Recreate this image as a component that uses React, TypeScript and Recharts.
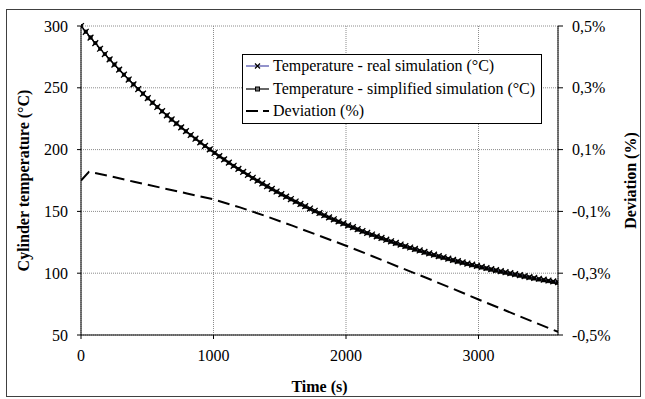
import React from 'react';
import { LineChart, Line, XAxis, YAxis, CartesianGrid } from 'recharts';

// time grid of the two simulations (s)
const timeS = [
  0, 36, 72, 108, 144, 180, 216, 252, 288, 324, 360, 396, 432, 468, 504, 540, 576, 612, 648, 684,
  720, 756, 792, 828, 864, 900, 936, 972, 1008, 1044, 1080, 1116, 1152, 1188, 1224, 1260, 1296, 1332,
  1368, 1404, 1440, 1476, 1512, 1548, 1584, 1620, 1656, 1692, 1728, 1764, 1800, 1836, 1872, 1908,
  1944, 1980, 2016, 2052, 2088, 2124, 2160, 2196, 2232, 2268, 2304, 2340, 2376, 2412, 2448, 2484,
  2520, 2556, 2592, 2628, 2664, 2700, 2736, 2772, 2808, 2844, 2880, 2916, 2952, 2988, 3024, 3060,
  3096, 3132, 3168, 3204, 3240, 3276, 3312, 3348, 3384, 3420, 3456, 3492, 3528, 3564, 3600,
];

// Temperature - real simulation (°C)
const realTemp = [
  300.0, 295.3, 290.6, 286.1, 281.6, 277.3, 273.0, 268.8, 264.7, 260.6, 256.7,
  252.8, 249.0, 245.3, 241.6, 238.0, 234.5, 231.1, 227.7, 224.4, 221.2,
  218.0, 214.9, 211.8, 208.8, 205.9, 203.0, 200.2, 197.4, 194.7, 192.1,
  189.5, 186.9, 184.4, 182.0, 179.6, 177.2, 174.9, 172.6, 170.4, 168.2,
  166.1, 164.0, 162.0, 160.0, 158.0, 156.0, 154.2, 152.3, 150.5, 148.7,
  146.9, 145.2, 143.6, 141.9, 140.3, 138.7, 137.2, 135.6, 134.1, 132.7,
  131.3, 129.8, 128.5, 127.1, 125.8, 124.5, 123.2, 122.0, 120.8, 119.6,
  118.4, 117.2, 116.1, 115.0, 113.9, 112.9, 111.8, 110.8, 109.8, 108.8,
  107.8, 106.9, 106.0, 105.1, 104.2, 103.3, 102.5, 101.6, 100.8, 100.0,
  99.2, 98.4, 97.7, 96.9, 96.2, 95.5, 94.8, 94.1, 93.4, 92.8,
];

// Temperature - simplified simulation (°C)
const simTemp = [
  300.0, 295.4, 290.7, 286.2, 281.6, 277.3, 273.0, 268.8, 264.7, 260.6, 256.7,
  252.8, 249.0, 245.3, 241.5, 237.9, 234.4, 231.0, 227.6, 224.3, 221.1,
  217.9, 214.8, 211.7, 208.7, 205.8, 202.9, 200.1, 197.3, 194.6, 192.0,
  189.4, 186.8, 184.3, 181.9, 179.5, 177.0, 174.7, 172.4, 170.2, 168.0,
  165.9, 163.8, 161.8, 159.8, 157.8, 155.7, 153.9, 152.0, 150.2, 148.4,
  146.6, 144.9, 143.3, 141.6, 140.0, 138.4, 136.9, 135.3, 133.8, 132.4,
  131.0, 129.5, 128.2, 126.8, 125.5, 124.1, 122.8, 121.6, 120.4, 119.2,
  118.0, 116.8, 115.7, 114.6, 113.5, 112.5, 111.4, 110.4, 109.4, 108.4,
  107.4, 106.5, 105.6, 104.7, 103.8, 102.9, 102.1, 101.2, 100.4, 99.6,
  98.8, 98.0, 97.3, 96.5, 95.8, 95.0, 94.3, 93.6, 92.9, 92.3,
];

// Deviation (%)
const devTime = [0, 60, 200, 400, 600, 800, 1000, 1200, 1400, 1600, 1800, 2000, 2200, 2400, 2600, 2800, 3000, 3200, 3400, 3600];
const devValue = [
  0.0, 0.028, 0.016, -0.004, -0.023, -0.042, -0.061, -0.087, -0.116, -0.147,
  -0.179, -0.211, -0.245, -0.28, -0.314, -0.349, -0.385, -0.42, -0.455, -0.49,
];

const xTicks = [0, 1000, 2000, 3000];
const tempTicks = [50, 100, 150, 200, 250, 300];
const devTicks = [-0.5, -0.3, -0.1, 0.1, 0.3, 0.5];

const tempRows = timeS.map((t, i) => ({ t, real: realTemp[i], sim: simTemp[i] }));
const devRows = devTime.map((t, i) => ({ t, dev: devValue[i] }));

const fmtDev = (v: number) => v.toFixed(1).replace('.', ',') + '%';

const CrossDot = (props: any) => {
  const { cx, cy, index } = props;
  if (cx == null || cy == null) return <g key={`c-${index}`} />;
  const r = 2.9;
  return (
    <path
      key={`c-${index}`}
      d={`M${cx - r},${cy - r}L${cx + r},${cy + r}M${cx - r},${cy + r}L${cx + r},${cy - r}`}
      stroke="#000"
      strokeWidth={1.3}
      fill="none"
    />
  );
};

const SquareDot = (props: any) => {
  const { cx, cy, index } = props;
  if (cx == null || cy == null) return <g key={`s-${index}`} />;
  return <rect key={`s-${index}`} x={cx - 1.75} y={cy - 1.75} width={3.5} height={3.5} fill="#000" stroke="#000" strokeWidth={0.5} />;
};

const tickStyle = { fill: '#000', fontSize: 16 };
const titleStyle = { fontWeight: 'bold', fontSize: 16, fill: '#000', textAnchor: 'middle' } as any;

const LegendBox = () => {
  const row = { display: 'flex', alignItems: 'center', height: 22.5, whiteSpace: 'nowrap' } as React.CSSProperties;
  return (
    <div
      style={{
        position: 'absolute', left: 242, top: 54, width: 300, height: 70, boxSizing: 'border-box',
        border: '1px solid #000', background: '#fff', paddingLeft: 3, fontSize: 16, color: '#000',
      }}
    >
      <div style={row}>
        <svg width={23} height={12} style={{ marginRight: 4 }}>
          <line x1={0} y1={6} x2={23} y2={6} stroke="#4a4aa8" strokeWidth={1.2} />
          <path d="M9,3.5L14,8.5M9,8.5L14,3.5" stroke="#000" strokeWidth={1.2} />
        </svg>
        Temperature - real simulation (°C)
      </div>
      <div style={row}>
        <svg width={23} height={12} style={{ marginRight: 4 }}>
          <line x1={0} y1={6} x2={23} y2={6} stroke="#000" strokeWidth={1.2} />
          <rect x={9.5} y={4} width={4} height={4} fill="#777" stroke="#000" strokeWidth={1} />
        </svg>
        Temperature - simplified simulation (°C)
      </div>
      <div style={row}>
        <svg width={23} height={12} style={{ marginRight: 4 }}>
          <line x1={0} y1={6} x2={23} y2={6} stroke="#000" strokeWidth={2} strokeDasharray="12 5" />
        </svg>
        Deviation (%)
      </div>
    </div>
  );
};

export default function App() {
  return (
    <div
      style={{
        position: 'absolute', left: 0, top: 0, width: 645, height: 399, background: '#fff',
        fontFamily: '"Liberation Serif", "Times New Roman", serif',
      }}
    >
      <div style={{ position: 'absolute', left: 6, top: 9, width: 633, height: 386, border: '1px solid #404040' }} />
      <LineChart width={645} height={399} margin={{ top: 26, right: 0, bottom: 0, left: 0 }}>
        <CartesianGrid stroke="#8c8c8c" strokeDasharray="1 1" />
        <XAxis
          type="number"
          dataKey="t"
          domain={[0, 3600]}
          ticks={xTicks}
          allowDataOverflow
          height={64}
          tick={tickStyle}
          tickSize={4}
          tickMargin={11}
          axisLine={{ stroke: '#000' }}
          tickLine={{ stroke: '#000' }}
          label={{ value: 'Time (s)', position: 'insideBottom', offset: 7, style: titleStyle }}
        />
        <YAxis
          type="number"
          domain={[50, 300]}
          ticks={tempTicks}
          width={81}
          tick={tickStyle}
          tickSize={4}
          tickMargin={9}
          axisLine={{ stroke: '#000' }}
          tickLine={{ stroke: '#000' }}
          label={{ value: 'Cylinder temperature (°C)', angle: -90, position: 'insideLeft', offset: 23, style: titleStyle }}
        />
        <YAxis
          yAxisId="right"
          orientation="right"
          type="number"
          domain={[-0.5, 0.5]}
          ticks={devTicks}
          tickFormatter={fmtDev}
          width={87}
          tick={tickStyle}
          tickSize={5}
          tickMargin={9}
          axisLine={{ stroke: '#000' }}
          tickLine={{ stroke: '#000' }}
          label={{ value: 'Deviation (%)', angle: -90, position: 'insideRight', offset: 15, style: titleStyle }}
        />
        <Line
          yAxisId="right"
          data={devRows}
          dataKey="dev"
          type="linear"
          stroke="#000"
          strokeWidth={2}
          strokeDasharray="12 6"
          dot={false}
          activeDot={false}
          isAnimationActive={false}
        />
        <Line
          data={tempRows}
          dataKey="real"
          type="linear"
          stroke="#4a4aa8"
          strokeWidth={1}
          dot={CrossDot}
          activeDot={false}
          isAnimationActive={false}
        />
        <Line
          data={tempRows}
          dataKey="sim"
          type="linear"
          stroke="#000"
          strokeWidth={1}
          dot={SquareDot}
          activeDot={false}
          isAnimationActive={false}
        />
      </LineChart>
      <LegendBox />
    </div>
  );
}
